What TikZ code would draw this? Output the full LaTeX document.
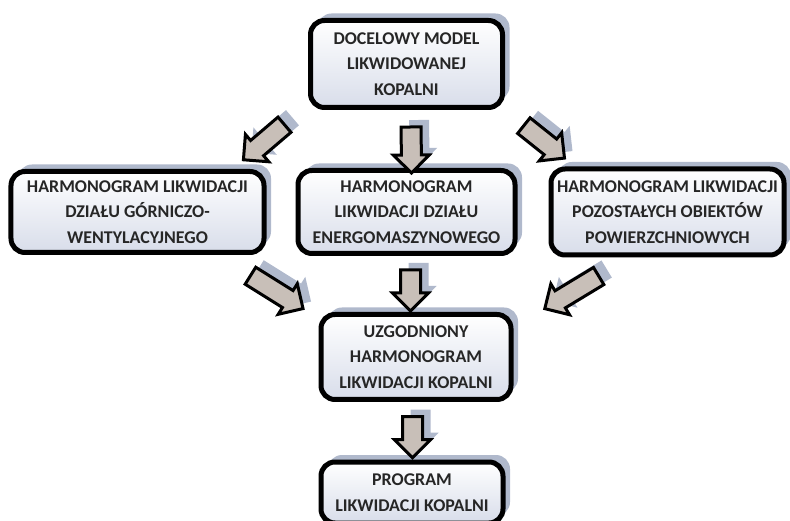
\documentclass[tikz,border=0pt]{standalone}
\usepackage{fontspec}
\setmainfont{Carlito}
\usetikzlibrary{shapes,arrows,positioning,shadows}
\definecolor{boxlow}{HTML}{D8DDEA}
\definecolor{shade}{HTML}{B0B9CC}
\definecolor{flowfill}{HTML}{C8BFB8}
\definecolor{ink}{HTML}{262626}
\tikzstyle{stage} = [rectangle, draw=black, line width=5bp, rounded corners=14bp, top color=white, bottom color=boxlow, text=ink, align=center, font=\fontsize{18}{25.5}\selectfont\bfseries, drop shadow={shadow xshift=7bp, shadow yshift=7bp, fill=shade, opacity=1}]
\tikzstyle{flow} = [single arrow, draw=black, line width=3bp, fill=flowfill, inner xsep=0pt, inner ysep=8.5bp, single arrow head extend=8bp, sloped, allow upside down, midway, drop shadow={shadow xshift=8bp, shadow yshift=7bp, fill=shade, opacity=1}]

\begin{document}
\begin{tikzpicture}[x=1bp, y=1bp]
        \useasboundingbox (0,0) rectangle (790,521);
        \node [stage, minimum width=192bp, minimum height=87bp] (model) at (406.5,457) {DOCELOWY MODEL\\LIKWIDOWANEJ\\KOPALNI};
        \node [stage, below of=model, node distance=148bp, minimum width=217bp, minimum height=83bp] (energy) {HARMONOGRAM\\LIKWIDACJI DZIAŁU\\ENERGOMASZYNOWEGO};
        \node [stage, left of=energy, node distance=269bp, minimum width=253bp, minimum height=81bp] (mining) {HARMONOGRAM LIKWIDACJI\\DZIAŁU GÓRNICZO-\\WENTYLACYJNEGO};
        \node [stage, right of=energy, node distance=261bp, minimum width=233bp, minimum height=86bp] (surface) {HARMONOGRAM LIKWIDACJI\\POZOSTAŁYCH OBIEKTÓW\\POWIERZCHNIOWYCH};
        \node [stage, below of=energy, node distance=145bp, xshift=9.5bp, minimum width=190bp, minimum height=85bp] (schedule) {UZGODNIONY\\HARMONOGRAM\\LIKWIDACJI KOPALNI};
        \node [stage, below of=schedule, node distance=135.5bp, xshift=-4bp, minimum width=182bp, minimum height=61bp] (program) {PROGRAM\\LIKWIDACJI KOPALNI};

        \path ([shift={(4.5,-10)}]model.south) -- node [flow, minimum height=46bp] {} ([shift={(5,-2)}]energy.north);
        \path ([shift={(-18,-10)}]model.south west) -- node [flow, minimum height=54bp] {} ([shift={(-21,11)}]mining.north east);
        \path ([shift={(13,-11)}]model.south east) -- node [flow, minimum height=52bp] {} ([shift={(14,10)}]surface.north west);
        \path ([shift={(-22,-17)}]mining.south east) -- node [flow, minimum height=62bp] {} ([shift={(-18,5)}]schedule.north west);
        \path ([shift={(4,-7)}]energy.south) -- node [flow, minimum height=41bp] {} ([shift={(-5.5,4)}]schedule.north);
        \path ([shift={(56,-15)}]surface.south west) -- node [flow, minimum height=63bp] {} ([shift={(34,5)}]schedule.north east);
        \path ([shift={(-3.5,-8)}]schedule.south) -- node [flow, minimum height=41bp] {} ([shift={(0.5,5)}]program.north);
      \end{tikzpicture}
\end{document}
